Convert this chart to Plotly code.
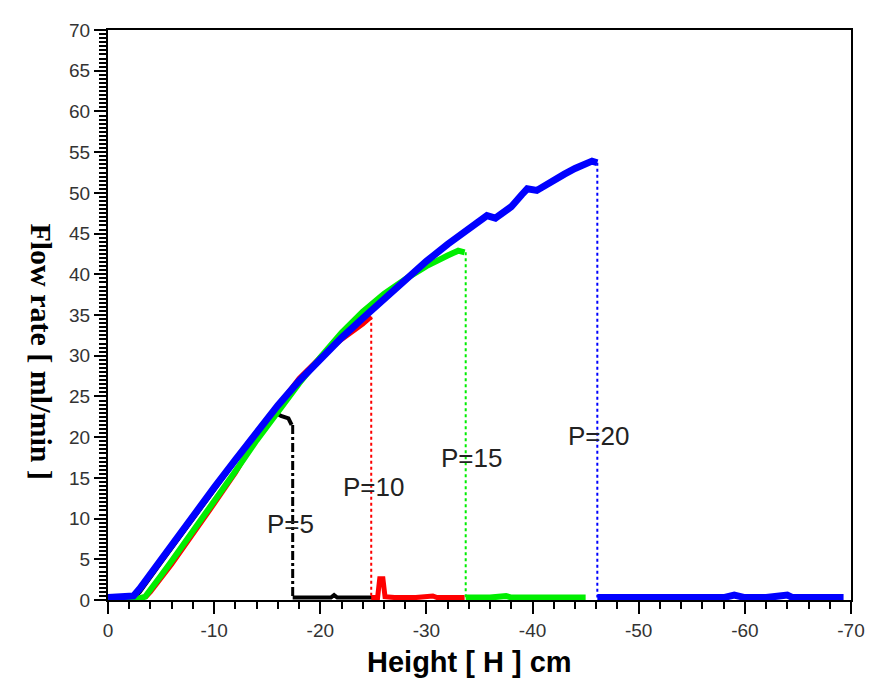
import plotly.graph_objects as go

# ---------------- data ----------------
# P=20 (blue)
blue_rise_x = [0, -1, -2, -2.4, -3, -4, -5, -6, -8, -10, -12, -14, -16, -18, -20, -22, -24, -26, -28, -30,
               -32, -34, -35, -35.7, -36.5, -37, -38, -39, -39.5, -40.4, -41, -42, -43, -44, -45, -45.6, -46.1]
blue_rise_y = [0.3, 0.3, 0.3, 0.5, 1.4, 3.2, 5.0, 6.8, 10.4, 13.8, 17.2, 20.6, 23.9, 26.9, 29.6, 32.2, 34.6,
               37.0, 39.3, 41.6, 43.7, 45.6, 46.5, 47.2, 46.9, 47.4, 48.3, 49.8, 50.5, 50.3, 50.8, 51.6, 52.3,
               53.0, 53.6, 53.9, 53.7]
blue_flat_x = [-46.1, -48, -50, -52, -52.5, -54, -56, -58, -59, -60, -62, -64, -64.5, -66, -68, -69.3]
blue_flat_y = [0.3, 0.3, 0.3, 0.5, 0.3, 0.4, 0.3, 0.3, 0.6, 0.3, 0.3, 0.6, 0.3, 0.3, 0.3, 0.3]

# P=15 (green)
green_rise_x = [0, -3, -3.5, -4, -5, -6, -8, -10, -12, -14, -16, -18, -20, -22, -24, -26, -28, -30, -32, -33, -33.6]
green_rise_y = [0.2, 0.2, 0.4, 1.2, 3.0, 4.8, 8.4, 12.0, 15.8, 19.6, 23.2, 26.6, 29.8, 32.8, 35.4, 37.6, 39.4,
                41.0, 42.3, 42.9, 42.7]
green_flat_x = [-33.7, -36, -37.5, -38, -40, -42, -45]
green_flat_y = [0.3, 0.3, 0.5, 0.3, 0.3, 0.3, 0.3]

# P=10 (red)
red_rise_x = [-3.5, -4, -6, -8, -10, -12, -14, -16, -17, -18, -20, -22, -24, -24.8]
red_rise_y = [0.3, 1.0, 4.4, 8.0, 11.8, 15.6, 20.0, 23.8, 25.6, 27.2, 29.8, 32.0, 33.9, 34.8]
red_flat_x = [-24.8, -25.4, -25.6, -25.9, -26.1, -27, -29, -30.6, -31, -33.6]
red_flat_y = [0.3, 0.3, 2.6, 2.6, 0.4, 0.3, 0.3, 0.5, 0.3, 0.3]

# P=5 (black)
black_rise_x = [-2.5, -3, -5, -8, -10, -12, -14, -15.8, -16.3, -17.0, -17.3]
black_rise_y = [0.3, 1.0, 4.6, 10.0, 13.6, 17.2, 20.6, 23.0, 22.6, 22.3, 21.5]
black_flat_x = [-17.4, -19, -21, -21.3, -21.6, -23, -25]
black_flat_y = [0.3, 0.3, 0.3, 0.6, 0.3, 0.3, 0.3]

labels = ["P=5", "P=10", "P=15", "P=20"]
label_x = [-17.2, -25.0, -34.2, -46.2]
label_y = [9.3, 13.9, 17.5, 20.1]

x_ticks = [0, -10, -20, -30, -40, -50, -60, -70]
y_ticks = list(range(0, 75, 5))

# ---------------- figure ----------------
fig = go.Figure()

series = [
    (black_rise_x, black_rise_y, black_flat_x, black_flat_y, "black", 4, "dashdot", 3),
    (red_rise_x, red_rise_y, red_flat_x, red_flat_y, "#ff0000", 5, "dot", 2),
    (green_rise_x, green_rise_y, green_flat_x, green_flat_y, "#00ee00", 6, "dot", 2),
    (blue_rise_x, blue_rise_y, blue_flat_x, blue_flat_y, "#0000ff", 7, "dot", 2),
]

for rx, ry, fx, fy, col, w, dash, dw in series:
    # vertical drop
    fig.add_trace(go.Scatter(x=[fx[0], fx[0]], y=[ry[-1], fy[0]], mode="lines",
                             line=dict(color=col, width=dw, dash=dash), showlegend=False, hoverinfo="skip"))
    fig.add_trace(go.Scatter(x=fx, y=fy, mode="lines", line=dict(color=col, width=w),
                             showlegend=False))

for rx, ry, fx, fy, col, w, dash, dw in series:
    fig.add_trace(go.Scatter(x=rx, y=ry, mode="lines", line=dict(color=col, width=w),
                             showlegend=False))

for t, x, y in zip(labels, label_x, label_y):
    fig.add_annotation(x=x, y=y, text=t, showarrow=False,
                       font=dict(family="Liberation Sans, Arial", size=26, color="#222222"))

fig.add_annotation(xref="paper", yref="paper", x=-0.115, y=0.436, text="<b>Flow rate [ ml/min ]</b>",
                   textangle=90, showarrow=False,
                   font=dict(family="Liberation Serif, Times New Roman", size=30, color="black"))
fig.add_annotation(xref="paper", yref="paper", x=0.486, y=-0.108, yanchor="middle",
                   text="<b>Height [ H ] cm</b>", showarrow=False,
                   font=dict(family="Liberation Sans, Arial", size=29, color="black"))

# page body has an 8px margin: shrink the figure accordingly
fig.update_layout(
    width=869, height=676,
    margin=dict(l=100, r=20, t=14, b=84),
    paper_bgcolor="white", plot_bgcolor="white",
    xaxis=dict(range=[0, -70], tickvals=x_ticks, ticktext=[str(v) for v in x_ticks],
               showgrid=False, zeroline=False, showline=True, linecolor="black", linewidth=2,
               mirror=True, ticks="outside", ticklen=12, tickwidth=2, tickcolor="black",
               tickfont=dict(family="Liberation Sans, Arial", size=19, color="#333333"),
               minor=dict(dtick=2, ticks="outside", ticklen=7, tickwidth=2, tickcolor="black")),
    yaxis=dict(range=[0, 70], tickvals=y_ticks, ticktext=[str(v) for v in y_ticks],
               showgrid=False, zeroline=False, showline=True, linecolor="black", linewidth=2,
               mirror=True, ticks="outside", ticklen=12, tickwidth=2, tickcolor="black",
               tickfont=dict(family="Liberation Sans, Arial", size=19, color="#333333"),
               minor=dict(dtick=0.5, ticks="outside", ticklen=7, tickwidth=1.5, tickcolor="black")),
)

fig.write_html("out.html")
